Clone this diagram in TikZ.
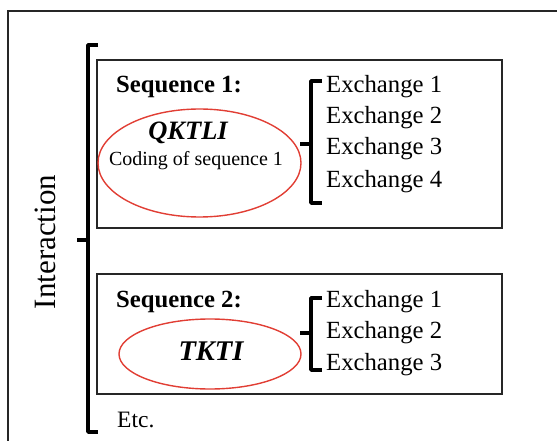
\documentclass[tikz,border=0pt]{standalone}
\usepackage{fontspec}
\setmainfont{Liberation Serif}
\definecolor{ellred}{RGB}{225,62,52}
\begin{document}
\begin{tikzpicture}[x=1pt,y=-1pt,
  txt/.style={inner sep=0pt,font=\fontsize{24.7}{28}\selectfont},
  seqbox/.style={draw=black!85,line width=1.4pt},
  ell/.style={draw=ellred,line width=1.4pt},
  brk/.style={line width=3.4pt,line join=round,line cap=butt},
  frame/.style={draw=black!85,line width=1.5pt}]
\useasboundingbox (0,0) rectangle (557,441);
\clip (0,0) rectangle (557,441);
% outer frame (cut off at right and bottom)
\draw[frame] (8,450) -- (8,11) -- (570,11);
% interaction label
\node[txt,font=\fontsize{31}{34}\selectfont,rotate=90,anchor=base] (inter) at (55,242) {Interaction};
% big bracket
\draw[brk] (98,45) -- (88,45) -- (88,432) -- (98,432);
\draw[brk] (88,240) -- (77,240);
% boxes
\draw[seqbox] (97,60) rectangle (502,228);
\draw[seqbox] (97,274) rectangle (502,394);
% sequence 1
\node[txt,font=\bfseries\fontsize{24.7}{28}\selectfont,anchor=base west] (s1) at (116,93) {Sequence 1:};
\draw[ell] (199.5,163) ellipse [x radius=101.5, y radius=54];
\node[txt,font=\bfseries\itshape\fontsize{26.5}{30}\selectfont,anchor=base] (q1) at (188,140) {QKTLI};
\node[txt,font=\fontsize{20}{24}\selectfont,anchor=base] (c1) at (196,166) {Coding of sequence 1};
\draw[brk] (322,81) -- (311,81) -- (311,203) -- (322,203);
\draw[brk] (311,144) -- (300,144);
\node[txt,anchor=base west] (e11) at (326,93) {Exchange 1};
\node[txt,anchor=base west] (e12) at (326,124) {Exchange 2};
\node[txt,anchor=base west] (e13) at (326,155) {Exchange 3};
\node[txt,anchor=base west] (e14) at (326,187) {Exchange 4};
% sequence 2
\node[txt,font=\bfseries\fontsize{24.7}{28}\selectfont,anchor=base west] (s2) at (116,307) {Sequence 2:};
\draw[ell] (210,354) ellipse [x radius=91, y radius=35];
\node[txt,font=\bfseries\itshape\fontsize{28.5}{32}\selectfont,anchor=base] (t2) at (211,360) {TKTI};
\draw[brk] (322,298) -- (311,298) -- (311,370) -- (322,370);
\draw[brk] (311,333) -- (300,333);
\node[txt,anchor=base west] (e21) at (326,307) {Exchange 1};
\node[txt,anchor=base west] (e22) at (326,338) {Exchange 2};
\node[txt,anchor=base west] (e23) at (326,370) {Exchange 3};
% etc
\node[txt,font=\fontsize{23.5}{26}\selectfont,anchor=base west] (etc) at (117,427) {Etc.};
\end{tikzpicture}
\end{document}
